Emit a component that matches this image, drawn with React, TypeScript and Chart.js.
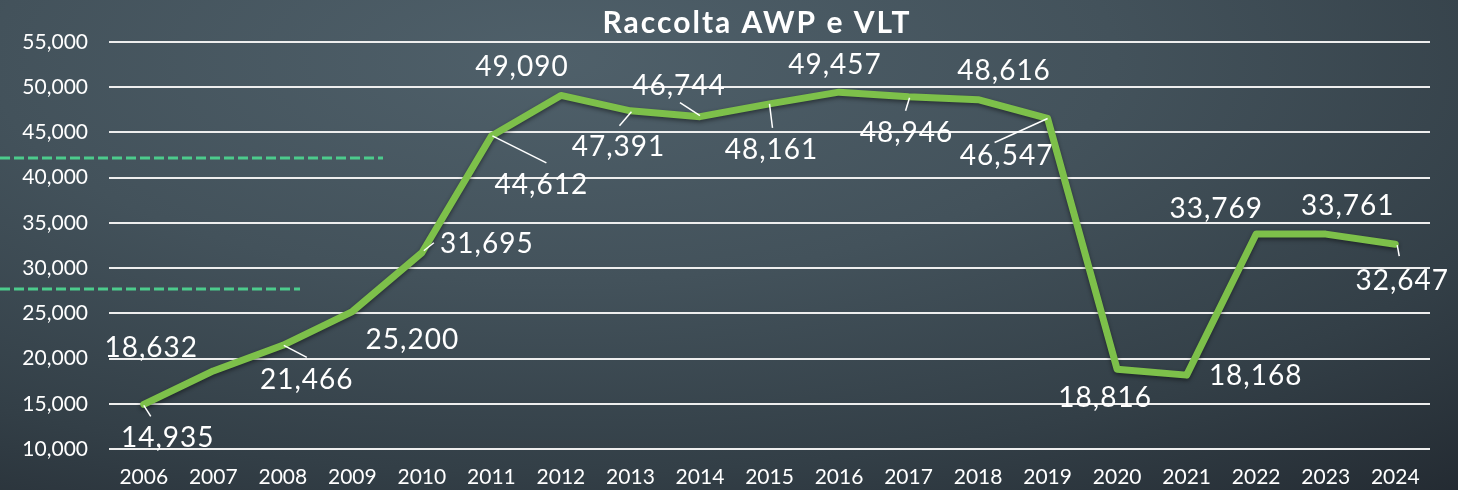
import React, { useEffect, useRef } from "react";
import { Chart, registerables } from "chart.js";

Chart.register(...registerables);

// ---- data ----
const years = [
  "2006", "2007", "2008", "2009", "2010", "2011", "2012", "2013", "2014", "2015",
  "2016", "2017", "2018", "2019", "2020", "2021", "2022", "2023", "2024",
];
const raccolta = [
  14935, 18632, 21466, 25200, 31695, 44612, 49090, 47391, 46744, 48161,
  49457, 48946, 48616, 46547, 18816, 18168, 33769, 33761, 32647,
];
const yMin = 10000;
const yMax = 55000;
const yStep = 5000;
const chartTitle = "Raccolta AWP e VLT";

// ---- label placement (pixel offsets from each point: text centre) ----
const labelOffsets: [number, number][] = [
  [24, 33], [-62, -24], [24, 34], [60, 27], [65, -10], [50, 48], [-39, -29],
  [-12, 35], [-21, -32], [2, 45], [-4, -28], [-2, 35], [26, -30], [-41, 37],
  [-12, 28], [69, 0], [-40, -26], [22, -29], [7, 36],
];
// leader lines: [x1, y1, x2, y2] offsets from the point, or null
const leaderLines: (number[] | null)[] = [
  [0, 1, 7, 12], null, [1, 0, 24, 12], null, [2, -2, 12, -10], [1, 0, 55, 27], null,
  [1, 1, -11, 15], [0, -1, -20, -14], [0, 0, 3, 24], null, [1, 1, -3, 14], null, [0, 0, -53, 24],
  null, null, null, null, [2, 1, 4, 12],
];

const FONT = "Lato, 'Open Sans', 'DejaVu Sans', sans-serif";
const fmt = (v: number) => v.toLocaleString("en-US");

const decorPlugin = {
  id: "decor",
  beforeDraw(chart: any) {
    const ctx = chart.ctx;
    ctx.save();
    ctx.strokeStyle = "#4ccb8c";
    ctx.lineWidth = 3;
    ctx.setLineDash([10, 4]);
    ctx.beginPath();
    ctx.moveTo(0, 158);
    ctx.lineTo(383, 158);
    ctx.moveTo(0, 289);
    ctx.lineTo(300, 289);
    ctx.stroke();
    ctx.restore();

    ctx.save();
    ctx.fillStyle = "#ffffff";
    ctx.font = `bold 30px ${FONT}`;
    try {
      (ctx as any).letterSpacing = "2px";
    } catch (e) {}
    ctx.textAlign = "center";
    ctx.textBaseline = "alphabetic";
    ctx.fillText(chartTitle, 757, 33);
    ctx.restore();
  },
  beforeDatasetsDraw(chart: any) {
    const ctx = chart.ctx;
    ctx.save();
    ctx.shadowColor = "rgba(0,0,0,0.45)";
    ctx.shadowBlur = 4;
    ctx.shadowOffsetY = 2;
  },
  afterDatasetsDraw(chart: any) {
    const ctx = chart.ctx;
    ctx.restore();
    const meta = chart.getDatasetMeta(0);
    ctx.save();
    ctx.strokeStyle = "#ffffff";
    ctx.lineWidth = 1.5;
    meta.data.forEach((pt: any, i: number) => {
      const l = leaderLines[i];
      if (!l) return;
      ctx.beginPath();
      ctx.moveTo(pt.x + l[0], pt.y + l[1]);
      ctx.lineTo(pt.x + l[2], pt.y + l[3]);
      ctx.stroke();
    });
    ctx.fillStyle = "#ffffff";
    ctx.font = `28px ${FONT}`;
    try {
      (ctx as any).letterSpacing = "1px";
    } catch (e) {}
    ctx.textAlign = "center";
    ctx.textBaseline = "alphabetic";
    meta.data.forEach((pt: any, i: number) => {
      const [dx, dy] = labelOffsets[i];
      ctx.fillText(fmt(raccolta[i]), pt.x + dx, pt.y + dy + 10);
    });
    ctx.restore();
  },
};

export default function App() {
  const ref = useRef<HTMLCanvasElement | null>(null);

  useEffect(() => {
    if (!ref.current) return;
    const chart = new Chart(ref.current, {
      type: "line",
      data: {
        labels: years,
        datasets: [
          {
            label: chartTitle,
            data: raccolta,
            borderColor: "#7dc04a",
            borderWidth: 7,
            pointRadius: 0,
            tension: 0,
            borderJoinStyle: "round",
            borderCapStyle: "round",
            fill: false,
          },
        ],
      },
      options: {
        animation: false,
        responsive: false,
        maintainAspectRatio: false,
        layout: { padding: { top: 42, right: 28, bottom: 0, left: 0 } },
        plugins: {
          legend: { display: false },
          title: { display: false },
          tooltip: { enabled: false },
        },
        scales: {
          x: {
            offset: true,
            grid: { display: false, drawTicks: false },
            border: { display: false },
            ticks: {
              color: "#ffffff",
              font: { family: FONT, size: 21 },
              padding: 16,
              maxRotation: 0,
              autoSkip: false,
            },
            afterFit: (s: any) => {
              s.height = 41;
            },
          },
          y: {
            min: yMin,
            max: yMax,
            grid: { color: "#eeeeee", lineWidth: 2, drawTicks: false },
            border: { display: false },
            ticks: {
              stepSize: yStep,
              color: "#ffffff",
              font: { family: FONT, size: 21 },
              padding: 21,
              callback: (v: any) => fmt(Number(v)),
            },
            afterFit: (s: any) => {
              s.width = 109;
            },
          },
        },
      },
      plugins: [decorPlugin],
    });
    return () => chart.destroy();
  }, []);

  return (
    <div
      style={{
        position: "absolute",
        left: 0,
        top: 0,
        width: 1458,
        height: 490,
        overflow: "hidden",
        background:
          "radial-gradient(ellipse 110% 130% at 38% 12%, #4f606a 0%, #43525b 35%, #333f47 65%, #1c2128 100%)",
      }}
    >
      <canvas ref={ref} width={1458} height={490} style={{ display: "block" }} />
    </div>
  );
}
